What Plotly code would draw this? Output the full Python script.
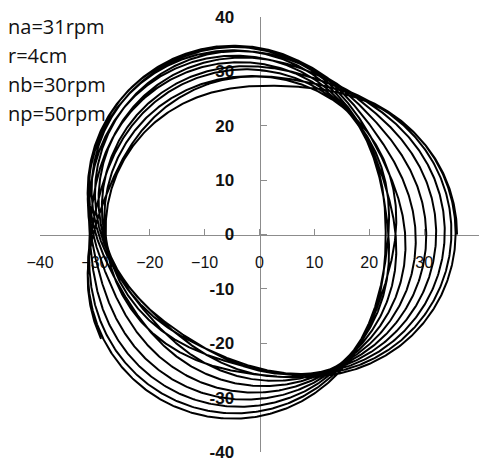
import numpy as np
import plotly.graph_objects as go

# Operating parameters (shown in the legend text)
na_rpm = 31      # bowl speed
nb_rpm = 30      # arm speed
np_rpm = 50      # paddle speed
r_cm = 4         # eccentric radius

# Lengths of the rotating vectors (cm) and the time span (min)
paddle_len_cm = 29.5
arm_len_cm = 2.5
t_end_min = 0.63
n_samples = 9000

# Axis ticks
tick_vals = [-40, -30, -20, -10, 0, 10, 20, 30, 40]
x_tick_text = ["\u221240", "\u221230", "\u221220", "\u221210", "0", "10", "20", "30", "40"]
y_tick_text = ["-40", "-30", "-20", "-10", "0", "10", "20", "30", "40"]

label_lines = [f"na={na_rpm}rpm", f"r={r_cm}cm", f"nb={nb_rpm}rpm", f"np={np_rpm}rpm"]

# Relative angular speeds of the three vectors (rpm)
f_paddle = np_rpm - nb_rpm
f_arm = na_rpm + nb_rpm
f_ecc = na_rpm - nb_rpm

# Path of the paddle tip seen from the bowl
t = np.linspace(0.0, t_end_min, n_samples)
w = 2 * np.pi * t
z = (paddle_len_cm * np.exp(1j * f_paddle * w)
     + arm_len_cm * np.exp(1j * f_arm * w)
     + r_cm * np.exp(1j * f_ecc * w))

fig = go.Figure()
fig.add_trace(go.Scatter(x=z.real, y=z.imag, mode="lines",
                         line=dict(color="black", width=2),
                         hoverinfo="skip", showlegend=False))

axis_common = dict(
    range=[-40, 40], tickmode="array", tickvals=tick_vals,
    showgrid=False, zeroline=False, showline=True,
    linecolor="#8c8c8c", linewidth=1,
    ticks="inside", ticklen=6, tickwidth=1, tickcolor="#8c8c8c",
    anchor="free", position=0.5, layer="below traces",
)
fig.update_xaxes(**axis_common, ticktext=x_tick_text,
                 tickfont=dict(family="Liberation Sans, Arial", size=16, color="#111"),
                 ticklabelstandoff=13)
fig.update_yaxes(**axis_common, ticktext=y_tick_text,
                 tickfont=dict(family="Liberation Sans, Arial", size=17, color="#111",
                               weight="bold"),
                 ticklabelstandoff=22)

label_y_px = [27, 56.5, 86, 115]
for txt, ypx in zip(label_lines, label_y_px):
    fig.add_annotation(text=txt, xref="paper", yref="paper",
                       x=(6 - 40) / 439, y=1 + (17 - ypx) / 442,
                       xanchor="left", yanchor="middle", showarrow=False,
                       font=dict(family="Open Sans, Noto Sans", size=20, color="#111"))

fig.update_layout(width=487, height=470,
                  margin=dict(l=40, r=8, t=17, b=11),
                  paper_bgcolor="white", plot_bgcolor="white")
fig.write_html("out.html")
